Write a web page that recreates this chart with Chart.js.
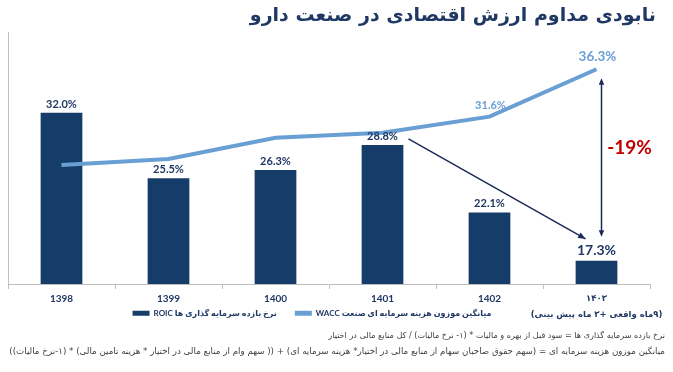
<!DOCTYPE html>
<html>
<head>
<meta charset="utf-8">
<script src="https://cdn.jsdelivr.net/npm/chart.js@4.4.1/dist/chart.umd.min.js"></script>
<style>
  html, body { margin: 0; padding: 0; background: #fff; }
  canvas { direction: rtl; display: block; }
</style>
</head>
<body>
<canvas id="roicChart" width="673" height="372"></canvas>
<script>
// values
const years = ['1398', '1399', '1400', '1401', '1402', ['۱۴۰۳', '(۹ماه واقعی +۳ ماه پیش بینی)']];
const roic = [32.0, 25.5, 26.3, 28.8, 22.1, 17.3];
const wacc = [26.8, 27.4, 29.5, 30.0, 31.6, 36.3];
const waccShown = [4, 5]; // only these wacc points carry a label
const roicName = 'نرخ بازده سرمایه گذاری ها ROIC';
const waccName = 'میانگین موزون هزینه سرمایه ای صنعت WACC';
const gapText = '-19%';
const titleText = 'نابودی مداوم ارزش اقتصادی در صنعت دارو';
const notes = [
    'نرخ بازده سرمایه گذاری ها = سود قبل از بهره و مالیات * (۱- نرخ مالیات) / کل منابع مالی در اختیار',
    'میانگین موزون هزینه سرمایه ای = (سهم حقوق صاحبان سهام از منابع مالی در اختیار* هزینه سرمایه ای) + (( سهم وام از منابع مالی در اختیار * هزینه تامین مالی) * (۱-نرخ مالیات))'
];

const NAVY = '#163d69';
const TEXT_NAVY = '#1f3864';
const BLUE = '#6a9fd4';
const FONT = 'Lato, "DejaVu Sans", sans-serif';
const FA_FONT = '"DejaVu Sans", sans-serif';
const LEGEND_PAD = 18;
const LEGEND_SIZE = 8;

function arrowHead(ctx, x1, y1, x2, y2, size) {
    const a = Math.atan2(y2 - y1, x2 - x1);
    ctx.beginPath();
    ctx.moveTo(x2, y2);
    ctx.lineTo(x2 - size * Math.cos(a - 0.4), y2 - size * Math.sin(a - 0.4));
    ctx.lineTo(x2 - size * Math.cos(a + 0.4), y2 - size * Math.sin(a + 0.4));
    ctx.closePath();
    ctx.fill();
}

const labelsPlugin = {
    id: 'valueLabels',
    afterDatasetsDraw(chart) {
        const ctx = chart.ctx;
        ctx.save();
        ctx.direction = 'ltr';
        ctx.textAlign = 'center';
        ctx.textBaseline = 'bottom';
        const bars = chart.getDatasetMeta(0).data;
        bars.forEach((el, i) => {
            const last = i === bars.length - 1;
            ctx.fillStyle = TEXT_NAVY;
            ctx.font = 'bold ' + (last ? 14 : 11) + 'px ' + FONT;
            ctx.fillText(roic[i].toFixed(1) + '%', el.x, el.y - 3);
        });
        const pts = chart.getDatasetMeta(1).data;
        waccShown.forEach(i => {
            const last = i === pts.length - 1;
            ctx.fillStyle = BLUE;
            ctx.font = 'bold ' + (last ? 13.5 : 11) + 'px ' + FONT;
            ctx.fillText(wacc[i].toFixed(1) + '%', pts[i].x + 1, pts[i].y - 6);
        });
        ctx.restore();
    }
};

const arrowsPlugin = {
    id: 'gapArrows',
    afterDatasetsDraw(chart) {
        const ctx = chart.ctx;
        const bars = chart.getDatasetMeta(0).data;
        const pts = chart.getDatasetMeta(1).data;
        const n = bars.length - 1;
        ctx.save();
        ctx.strokeStyle = '#1b2a57';
        ctx.fillStyle = '#1b2a57';
        ctx.lineWidth = 1.5;
        // diagonal arrow from the 1401 bar to the last bar
        const sx = bars[3].x + 26, sy = bars[3].y - 6;
        const ex = bars[n].x - 11, ey = bars[n].y - 22;
        ctx.beginPath();
        ctx.moveTo(sx, sy);
        ctx.lineTo(ex, ey);
        ctx.stroke();
        arrowHead(ctx, sx, sy, ex, ey, 8);
        // double arrow between wacc and roic on the last year
        const vx = bars[n].x + 5, vt = pts[n].y + 9, vb = bars[n].y - 24;
        ctx.beginPath();
        ctx.moveTo(vx, vt + 4);
        ctx.lineTo(vx, vb - 4);
        ctx.stroke();
        arrowHead(ctx, vx, vb, vx, vt, 7);
        arrowHead(ctx, vx, vt, vx, vb, 7);
        ctx.direction = 'ltr';
        ctx.fillStyle = '#c00000';
        ctx.font = 'bold 19px ' + FONT;
        ctx.textAlign = 'center';
        ctx.textBaseline = 'middle';
        ctx.fillText(gapText, vx + 28, (vt + vb) / 2 - 10);
        ctx.restore();
    }
};

const textPlugin = {
    id: 'pageText',
    afterLayout(chart) {
        // pull the legend up beside the two-line year label, like the original
        const lg = chart.legend;
        const itemH = LEGEND_SIZE * 1.2;
        const dy = lg.top + LEGEND_PAD + itemH / 2 - 314;
        const dx = (lg.left + lg.right) / 2 - 312;
        lg.top -= dy; lg.bottom -= dy;
        lg.left -= dx; lg.right -= dx;
    },
    afterDraw(chart) {
        const ctx = chart.ctx;
        ctx.save();
        ctx.direction = 'rtl';
        ctx.textAlign = 'right';
        ctx.textBaseline = 'middle';
        ctx.fillStyle = TEXT_NAVY;
        ctx.font = 'bold 19px ' + FA_FONT;
        ctx.fillText(titleText, 656, 16);
        ctx.fillStyle = '#404040';
        ctx.font = '8.1px ' + FA_FONT;
        ctx.fillText(notes[0], 665, 336);
        ctx.font = '8.7px ' + FA_FONT;
        ctx.fillText(notes[1], 665, 352);
        ctx.restore();
    }
};

new Chart(document.getElementById('roicChart'), {
    type: 'bar',
    data: {
        labels: years,
        datasets: [{
            label: roicName,
            data: roic,
            backgroundColor: NAVY,
            barPercentage: 0.39,
            categoryPercentage: 1,
            order: 1
        }, {
            type: 'line',
            label: waccName,
            data: wacc,
            borderColor: BLUE,
            backgroundColor: BLUE,
            borderWidth: 4,
            pointRadius: 0,
            tension: 0,
            order: 0
        }]
    },
    options: {
        responsive: false,
        animation: false,
        layout: { padding: { top: 32, left: 8, right: 23, bottom: 16 } },
        scales: {
            x: {
                grid: { display: true, drawOnChartArea: false, offset: true, tickLength: 5, color: '#bfbfbf' },
                border: { color: '#bfbfbf' },
                ticks: {
                    color: TEXT_NAVY,
                    font: (c) => c.index === 5
                        ? { family: FA_FONT, size: 8.5, weight: 'bold', lineHeight: 1.88 }
                        : { family: FONT, size: 10, weight: 'bold', lineHeight: 1.6 },
                    padding: 2,
                    maxRotation: 0,
                    autoSkip: false
                },
                afterFit(scale) { scale.height = 36; }
            },
            y: {
                min: 15,
                max: 40,
                grid: { display: false, drawTicks: false },
                ticks: { display: false },
                border: { display: true, color: '#bfbfbf' }
            }
        },
        plugins: {
            legend: {
                position: 'bottom',
                reverse: true,
                labels: {
                    boxWidth: 17,
                    boxHeight: 5,
                    padding: LEGEND_PAD,
                    color: TEXT_NAVY,
                    font: { family: FONT, size: LEGEND_SIZE, weight: 'bold' },
                    generateLabels(chart) {
                        const items = Chart.defaults.plugins.legend.labels.generateLabels(chart);
                        items.forEach(it => { it.lineWidth = 0; });
                        return items;
                    }
                }
            },
            tooltip: { enabled: false }
        }
    },
    plugins: [labelsPlugin, arrowsPlugin, textPlugin]
});
</script>
</body>
</html>
